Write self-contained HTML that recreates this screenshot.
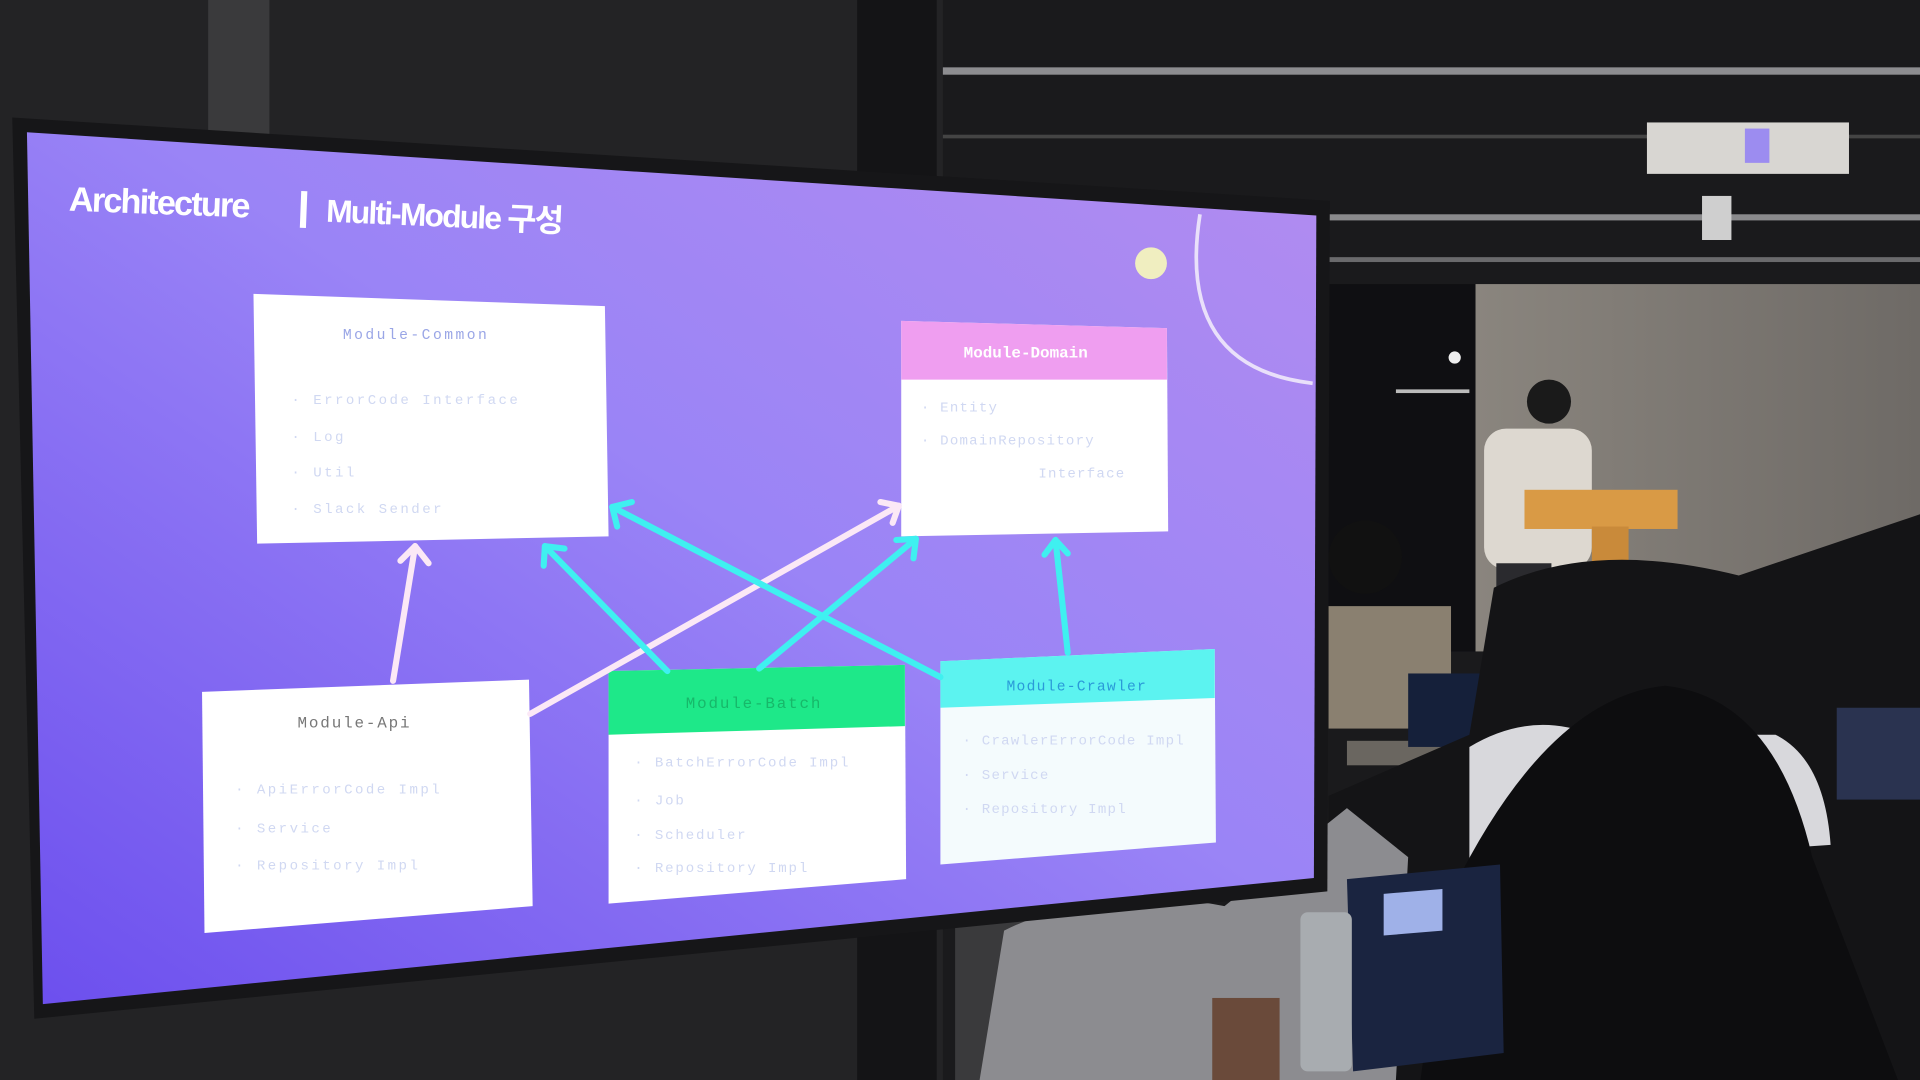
<!DOCTYPE html>
<html><head><meta charset="utf-8"><style>
html,body{margin:0;padding:0;background:#111;overflow:hidden}
svg{display:block}
text{font-family:"Liberation Mono","Noto Sans CJK KR",monospace}
.t{font-family:"Liberation Sans","Noto Sans CJK KR",sans-serif;font-weight:bold}
</style></head><body>
<svg width="1920" height="1080" viewBox="0 0 1568 882" preserveAspectRatio="none" xmlns="http://www.w3.org/2000/svg">
<defs>
<linearGradient id="scr" x1="0" y1="1" x2="1" y2="0">
<stop offset="0" stop-color="#6c4fee"/>
<stop offset="0.55" stop-color="#9a84f6"/>
<stop offset="1" stop-color="#b28cf0"/>
</linearGradient>
<linearGradient id="wall" x1="0" y1="0" x2="1" y2="0">
<stop offset="0" stop-color="#8a857e"/><stop offset="1" stop-color="#6e6a66"/>
</linearGradient>
</defs>
<rect width="1568" height="882" fill="#1a1a1c"/>
<rect x="0" y="0" width="770" height="882" fill="#232325"/>
<rect x="170" y="0" width="50" height="110" fill="#3a3a3c"/>
<rect x="700" y="0" width="65" height="882" fill="#141416"/>
<rect x="770" y="55" width="798" height="6" fill="#8d8d90"/>
<rect x="770" y="110" width="798" height="3" fill="#444"/>
<rect x="1085" y="175" width="483" height="5" fill="#8a8a8c"/>
<rect x="1085" y="210" width="483" height="4" fill="#6a6a6c"/>
<rect x="1345" y="100" width="165" height="42" fill="#d8d6d2"/>
<rect x="1425" y="105" width="20" height="28" fill="#9c8cf0"/>
<rect x="1390" y="160" width="24" height="36" fill="#cfcfcf"/>
<rect x="1205" y="232" width="363" height="300" fill="url(#wall)"/>
<rect x="1085" y="232" width="120" height="300" fill="#0f0f12"/>
<rect x="1140" y="318" width="60" height="3" fill="#bbb"/>
<circle cx="1188" cy="292" r="5" fill="#eee"/>
<rect x="1212" y="350" width="88" height="115" rx="18" fill="#ddd8d0"/>
<circle cx="1265" cy="328" r="18" fill="#1a1a1a"/>
<rect x="1222" y="460" width="45" height="60" fill="#2a2a2e"/>
<rect x="1245" y="400" width="125" height="32" fill="#d99a45"/>
<rect x="1300" y="430" width="30" height="40" fill="#c98a3a"/>
<!-- audience -->
<rect x="1085" y="495" width="100" height="100" fill="#8a8070"/>
<circle cx="1115" cy="455" r="30" fill="#111"/>
<rect x="1100" y="605" width="200" height="20" fill="#6a6660"/>
<rect x="1150" y="550" width="100" height="60" fill="#15203a"/>
<path d="M1220 480 Q1300 440 1420 470 L1568 420 L1568 882 L1085 882 L1085 650 L1200 600Z" fill="#141416"/>
<path d="M1200 610 Q1250 580 1300 600 L1450 600 Q1490 620 1495 690 L1200 710Z" fill="#d8d8dc"/>
<rect x="780" y="740" width="305" height="142" fill="#3a3a3c"/>
<path d="M820 760 Q900 720 1000 740 L1100 660 L1150 700 L1140 882 L800 882Z" fill="#8c8c90"/>
<path d="M1160 882 L1180 740 Q1260 570 1360 560 Q1450 570 1480 700 L1550 882Z" fill="#0d0d0f"/>
<polygon points="1100,718 1225,706 1228,860 1105,875" fill="#1a2440"/>
<polygon points="1130,730 1178,726 1178,760 1130,764" fill="#9fb1e8"/>
<rect x="1500" y="578" width="68" height="75" fill="#2a3350"/>
<rect x="1062" y="745" width="42" height="130" rx="6" fill="#a8acb0"/>
<rect x="990" y="815" width="55" height="67" fill="#6a4a3a"/>
<!-- bezel -->
<polygon points="10,96 1086,164 1084,728 28,832" fill="#161618"/>
<polygon points="22,108 1075,176 1073,717 35,820" fill="url(#scr)"/>
<text class="t" x="56" y="172" font-size="28" fill="#fff" transform="rotate(2.2 56 172)" letter-spacing="-1.5">Architecture</text>
<rect x="246" y="156" width="5" height="30" fill="#fff" transform="rotate(2.2 246 156)"/>
<text class="t" x="266" y="181" font-size="26" fill="#fff" transform="rotate(2.5 266 181)" letter-spacing="-1.5">Multi-Module 구성</text>
<circle cx="940" cy="215" r="13" fill="#f0eec0"/>
<path d="M980 175 Q960 300 1072 313" fill="none" stroke="#e9e0fa" stroke-width="3"/>
<g>
<polygon points="207,240 494,250 497,438 210,444" fill="#fff"/>
<text x="280" y="277" font-size="12" fill="#9aa6e6" letter-spacing="2">Module-Common</text>
<g font-size="11.5" fill="#d0d8f2" letter-spacing="2">
<text x="238" y="330">· ErrorCode Interface</text>
<text x="238" y="360">· Log</text>
<text x="238" y="389">· Util</text>
<text x="238" y="419">· Slack Sender</text>
</g>
</g>
<g>
<polygon points="736,262 953,268 954,434 736,438" fill="#fff"/>
<polygon points="736,262 953,268 953,310 736,310" fill="#ef9ef0"/>
<text x="787" y="292" font-size="13" fill="#fff" font-weight="bold">Module-Domain</text>
<g font-size="11.5" fill="#d0d8f2" letter-spacing="1">
<text x="752" y="336">· Entity</text>
<text x="752" y="363">· DomainRepository</text>
<text x="848" y="390">Interface</text>
</g>
</g>
<g>
<polygon points="165,565 432,555 435,740 167,762" fill="#fff"/>
<text x="243" y="594" font-size="13" fill="#777" letter-spacing="1.5">Module-Api</text>
<g font-size="11.5" fill="#d0d8f2" letter-spacing="2">
<text x="192" y="648">· ApiErrorCode Impl</text>
<text x="192" y="680">· Service</text>
<text x="192" y="710">· Repository Impl</text>
</g>
</g>
<g>
<polygon points="497,548 739,543 740,718 497,738" fill="#fff"/>
<polygon points="497,548 739,543 739,593 497,600" fill="#1ee889"/>
<text x="560" y="578" font-size="13" fill="#17b86a" letter-spacing="1.5">Module-Batch</text>
<g font-size="11.5" fill="#d0d8f2" letter-spacing="1.5">
<text x="518" y="626">· BatchErrorCode Impl</text>
<text x="518" y="657">· Job</text>
<text x="518" y="685">· Scheduler</text>
<text x="518" y="712">· Repository Impl</text>
</g>
</g>
<g>
<polygon points="768,540 992,530 993,688 768,706" fill="#f4fbfd"/>
<polygon points="768,540 992,530 992,570 768,578" fill="#5cf3f0"/>
<text x="822" y="564" font-size="12" fill="#2a9ad8" letter-spacing="1">Module-Crawler</text>
<g font-size="11.5" fill="#d0d8f2" letter-spacing="1">
<text x="786" y="608">· CrawlerErrorCode Impl</text>
<text x="786" y="636">· Service</text>
<text x="786" y="664">· Repository Impl</text>
</g>
</g>
<g fill="none" stroke-width="5" stroke-linecap="round" stroke-linejoin="round">
<g stroke="#fbe8f6">
<line x1="321" y1="556" x2="339" y2="446"/><polyline points="327,458 339,446 350,460"/>
<line x1="433" y1="583" x2="734" y2="413"/><polyline points="719,410 734,413 729,427"/>
</g>
<g stroke="#3ff0f0">
<line x1="545" y1="548" x2="445" y2="446"/><polyline points="444,462 445,446 461,448"/>
<line x1="620" y1="546" x2="748" y2="440"/><polyline points="732,441 748,440 746,456"/>
<line x1="768" y1="553" x2="500" y2="414"/><polyline points="504,430 500,414 516,410"/>
<line x1="872" y1="533" x2="862" y2="441"/><polyline points="853,453 862,441 872,452"/>
</g>
</g>
</svg>
</body></html>
